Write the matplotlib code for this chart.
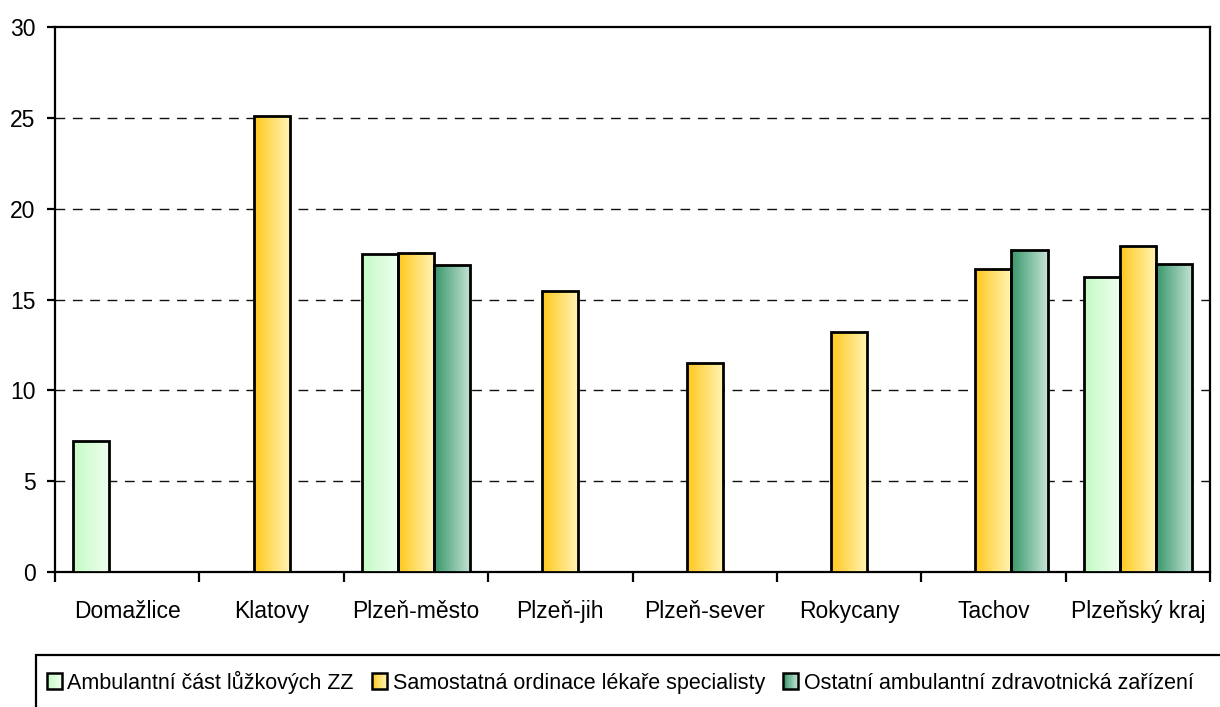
import numpy as np
import matplotlib
matplotlib.use("Agg")
import matplotlib.pyplot as plt
from matplotlib.patches import Rectangle
from matplotlib.legend_handler import HandlerBase
from matplotlib.colors import LinearSegmentedColormap

plt.rcParams['font.family'] = ['Liberation Sans', 'DejaVu Sans']

categories = ["Domažlice", "Klatovy", "Plzeň-město", "Plzeň-jih", "Plzeň-sever",
              "Rokycany", "Tachov", "Plzeňský kraj"]
series_names = ["Ambulantní část lůžkových ZZ",
                "Samostatná ordinace lékaře specialisty",
                "Ostatní ambulantní zdravotnická zařízení"]
ambulantni = [7.23, 0, 17.5, 0, 0, 0, 0, 16.25]
samostatna = [0, 25.1, 17.57, 15.48, 11.52, 13.23, 16.66, 17.94]
ostatni = [0, 0, 16.9, 0, 0, 0, 17.72, 16.95]
series_values = [ambulantni, samostatna, ostatni]
y_ticks = [0, 5, 10, 15, 20, 25, 30]

grad_colors = [("#c4fbc4", "#effef0"),
               ("#ffc81c", "#fff4b8"),
               ("#37966a", "#c6e4d6")]
cmaps = [LinearSegmentedColormap.from_list("g%d" % i, c) for i, c in enumerate(grad_colors)]

W, H = 1220, 707
fig = plt.figure(figsize=(W / 100, H / 100), dpi=100)
ax = fig.add_axes([55 / W, (H - 572) / H, (1210 - 55) / W, (572 - 27) / H])

x = np.arange(len(categories))
bw = 0.25
offsets = [-bw, 0, bw]
grad = np.linspace(0, 1, 256).reshape(1, -1)

for si, vals in enumerate(series_values):
    bars = ax.bar(x + offsets[si], vals, width=bw, facecolor="none",
                  edgecolor="black", linewidth=2.0, zorder=4)
    for rect, v in zip(bars.patches, vals):
        if v <= 0:
            rect.set_visible(False)
            continue
        x0, y0 = rect.get_x(), rect.get_y()
        w, h = rect.get_width(), rect.get_height()
        im = ax.imshow(grad, cmap=cmaps[si], extent=[x0, x0 + w, y0, y0 + h],
                       aspect="auto", zorder=3, interpolation="bilinear")
        im.set_clip_path(rect)

ax.set_xlim(-0.5, len(categories) - 0.5)
ax.set_ylim(0, 30)
ax.set_yticks(y_ticks)
ax.set_xticks(x)
ax.set_xticklabels(categories, fontsize=16.5)
ax.set_xticks(np.arange(-0.5, len(categories), 1.0), minor=True)
ax.tick_params(axis="x", which="major", length=0, pad=20)
ax.tick_params(axis="x", which="minor", length=7, width=1.6, direction="out")
ax.tick_params(axis="y", length=6, width=1.6, pad=8, labelsize=16.5)
for s in ax.spines.values():
    s.set_linewidth(1.6)
    s.set_color("black")
for yv in y_ticks[1:-1]:
    ax.axhline(yv, color="#111111", linewidth=1.0, dashes=(7, 5.5), zorder=1)


class GradHandler(HandlerBase):
    def __init__(self, cmap):
        super().__init__()
        self.cmap = cmap

    def create_artists(self, legend, orig_handle, xdescent, ydescent, width, height, fontsize, trans):
        arts = []
        n = 12
        side = max(width, height)
        x0 = -xdescent
        y0 = -ydescent + (height - side) / 2
        for i in range(n):
            r = Rectangle((x0 + side * i / n, y0), side / n * 1.05, side,
                          facecolor=self.cmap((i + 0.5) / n), edgecolor="none",
                          transform=trans)
            arts.append(r)
        arts.append(Rectangle((x0, y0), side, side, facecolor="none",
                              edgecolor="black", linewidth=1.8, transform=trans))
        return arts


handles = [Rectangle((0, 0), 1, 1) for _ in series_names]
hmap = {h: GradHandler(c) for h, c in zip(handles, cmaps)}
fig.legend(handles, series_names, handler_map=hmap, loc="center left",
           bbox_to_anchor=(47 / W, (H - 682) / H), ncol=3, frameon=False,
           fontsize=15.5, borderpad=0, borderaxespad=0, handlelength=0.7,
           handleheight=0.7, handletextpad=0.25, columnspacing=0.85)
fig.patches.append(Rectangle((36 / W, -0.1), 1.0, (H - 655) / H + 0.1,
                             transform=fig.transFigure, facecolor="none",
                             edgecolor="black", linewidth=1.6))

fig.savefig("out.png", dpi=100)
